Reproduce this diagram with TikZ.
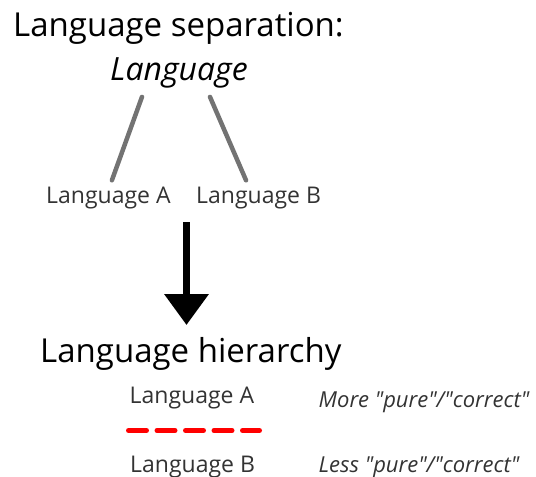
\documentclass[tikz,border=0pt]{standalone}
\usepackage{fontspec}
\setmainfont{Open Sans}[Ligatures=TeXOff]
\usetikzlibrary{arrows.meta}
\begin{document}
\begin{tikzpicture}[x=1pt,y=-1pt,
  lbl/.style={anchor=base west,inner sep=0pt},
  big/.style={lbl,font=\fontsize{33}{40}\selectfont},
  small/.style={lbl,text=black!80,font=\fontsize{23}{28}\selectfont},
  note/.style={lbl,text=black!80,font=\fontsize{22}{26}\selectfont\itshape},
  branch/.style={line width=4.5pt,draw=black!55,line cap=round}]
\useasboundingbox (0,0) rectangle (536,477);
% separation
\node (title) at (13,36) [big]{Language separation:};
\node (lang) at (110,80) [lbl,font=\fontsize{32}{38}\selectfont\itshape]{Language};
\node (sepA) at (46,203) [small]{Language A};
\node (sepB) at (196,203) [small]{Language B};
\draw [branch] ([xshift=-37pt,yshift=-9pt]lang.south) to ([xshift=3.5pt,yshift=6pt]sepA.north);
\draw [branch] ([xshift=31pt,yshift=-9pt]lang.south) to ([xshift=-12.5pt,yshift=6pt]sepB.north);
% arrow
\coordinate (arrowtop) at (186.5,222);
\coordinate (arrowtip) at (186.5,325);
\draw [-{Triangle[width=43pt,length=31pt]},line width=7pt] (arrowtop) to (arrowtip);
% hierarchy
\node (hier) at (40,362) [big]{Language hierarchy};
\node (hierA) at (129.5,403) [small]{Language A};
\node (hierB) at (130,472) [small]{Language B};
\node (more) at (318.5,407) [note]{More "pure"/"correct"};
\node (less) at (318.5,472) [note]{Less "pure"/"correct"};
\coordinate (cutL) at (128.5,430.5);
\coordinate (cutR) at (259.5,430.5);
\draw [red,line width=5pt,line cap=round,dash pattern=on 18pt off 10.5pt] (cutL) to (cutR);
\end{tikzpicture}
\end{document}
